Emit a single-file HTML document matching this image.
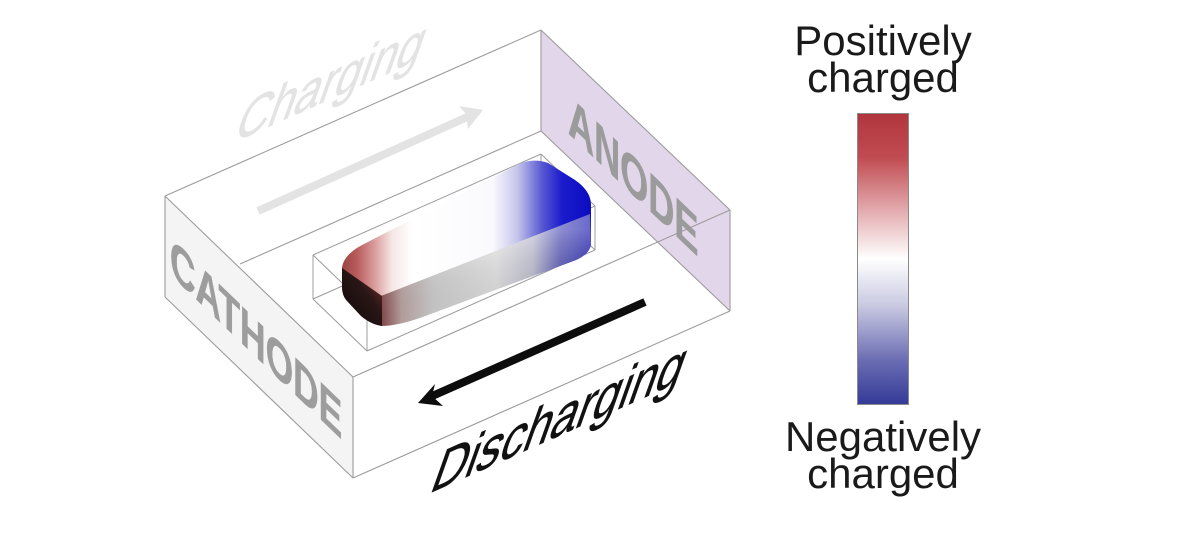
<!DOCTYPE html>
<html>
<head>
<meta charset="utf-8">
<style>
html,body{margin:0;padding:0;background:#fff;}
body{width:1200px;height:541px;overflow:hidden;}
svg{display:block;}
</style>
</head>
<body>
<svg width="1200" height="541" viewBox="0 0 1200 541" xmlns="http://www.w3.org/2000/svg">
  <defs>
    <linearGradient id="bar" x1="0" y1="0" x2="0" y2="1">
      <stop offset="0" stop-color="#b0363c"/>
      <stop offset="0.15" stop-color="#c04b51"/>
      <stop offset="0.33" stop-color="#e2a9ac"/>
      <stop offset="0.5" stop-color="#ffffff"/>
      <stop offset="0.66" stop-color="#c9c9e2"/>
      <stop offset="0.85" stop-color="#6a6cb2"/>
      <stop offset="1" stop-color="#343a98"/>
    </linearGradient>
    <linearGradient id="ptop" gradientUnits="userSpaceOnUse" x1="342" y1="0" x2="592" y2="0">
      <stop offset="0" stop-color="#9c4444"/>
      <stop offset="0.06" stop-color="#b85c5c"/>
      <stop offset="0.13" stop-color="#d99c9c"/>
      <stop offset="0.2" stop-color="#f6e6e6"/>
      <stop offset="0.28" stop-color="#ffffff"/>
      <stop offset="0.6" stop-color="#fafafd"/>
      <stop offset="0.7" stop-color="#c6c6ec"/>
      <stop offset="0.8" stop-color="#5858d2"/>
      <stop offset="0.88" stop-color="#1c1cce"/>
      <stop offset="1" stop-color="#0a0abf"/>
    </linearGradient>
    <linearGradient id="pfront" gradientUnits="userSpaceOnUse" x1="380" y1="0" x2="592" y2="0">
      <stop offset="0" stop-color="#8a4646"/>
      <stop offset="0.1" stop-color="#c4aaaa"/>
      <stop offset="0.25" stop-color="#d8d8d8"/>
      <stop offset="0.55" stop-color="#ececec"/>
      <stop offset="0.72" stop-color="#c2c2d6"/>
      <stop offset="0.85" stop-color="#5050b6"/>
      <stop offset="1" stop-color="#1616b0"/>
    </linearGradient>
    <linearGradient id="pfrontv" gradientUnits="userSpaceOnUse" x1="0" y1="230" x2="0" y2="330">
      <stop offset="0" stop-color="#ffffff" stop-opacity="0.35"/>
      <stop offset="1" stop-color="#000000" stop-opacity="0.08"/>
    </linearGradient>
    <linearGradient id="pend" gradientUnits="userSpaceOnUse" x1="345" y1="310" x2="385" y2="280">
      <stop offset="0" stop-color="#140c0c"/>
      <stop offset="0.55" stop-color="#2a1616"/>
      <stop offset="1" stop-color="#7a3030"/>
    </linearGradient>
  </defs>

  <!-- Left (cathode) face -->
  <polygon points="165,196 353,377 353,478 165,297" fill="#f4f4f4"/>
  <!-- Anode panel -->
  <polygon points="541,30 730,210 730,311 541,131" fill="#e2d6ea"/>

  <!-- box edges -->
  <g stroke="#9c9c9c" stroke-width="1.1" fill="none">
    <line x1="165" y1="196" x2="541" y2="30"/>
    <line x1="541" y1="30" x2="730" y2="210"/>
    <line x1="541" y1="30" x2="541" y2="131"/>
    <line x1="730" y1="210" x2="730" y2="311"/>
    <line x1="541" y1="131" x2="730" y2="311"/>
    <line x1="240" y1="264" x2="541" y2="131"/>
    <line x1="165" y1="196" x2="353" y2="377"/>
    <line x1="165" y1="196" x2="165" y2="297"/>
    <line x1="165" y1="297" x2="353" y2="478"/>
    <line x1="353" y1="377" x2="353" y2="478"/>
    <line x1="353" y1="377" x2="730" y2="210"/>
    <line x1="353" y1="478" x2="730" y2="311"/>
  </g>

  <!-- inner box edges -->
  <g stroke="#9c9c9c" stroke-width="1" fill="none">
    <line x1="313" y1="255" x2="541" y2="154"/>
    <line x1="541" y1="154" x2="595" y2="206"/>
    <line x1="313" y1="255" x2="367" y2="307"/>
    <line x1="367" y1="307" x2="595" y2="206"/>
    <line x1="313" y1="255" x2="313" y2="299"/>
    <line x1="595" y1="206" x2="595" y2="250"/>
    <line x1="367" y1="307" x2="367" y2="351"/>
    <line x1="541" y1="154" x2="541" y2="198"/>
    <line x1="313" y1="299" x2="367" y2="351"/>
    <line x1="367" y1="351" x2="595" y2="250"/>
    <line x1="313" y1="299" x2="541" y2="198"/>
    <line x1="541" y1="198" x2="595" y2="250"/>
  </g>

  <!-- particle -->
  <path d="M342,268 C343,258 352,250 364,244 L515,166 C525,160 538,159 548,163 L575,180 C585,187 591,195 591,205 L591,243 C591,250 585,256 576,260 L420,318 C405,323 390,327 380,325 C372,324 366,320 361,316 L348,302 C343,297 342,292 342,285 Z" fill="url(#ptop)"/>
  <path d="M381,296 L590,214 L591,243 C591,250 585,256 576,260 L420,318 C405,323 392,326 381,326 Z" fill="url(#pfront)"/>
  <path d="M381,296 L590,214 L591,243 C591,250 585,256 576,260 L420,318 C405,323 392,326 381,326 Z" fill="url(#pfrontv)"/>
  <path d="M342,268 L382,296 L382,326 C374,325 367,321 361,316 L348,302 C343,297 342,292 342,285 Z" fill="url(#pend)"/>

  <!-- Charging arrow (light gray) -->
  <line x1="258" y1="211" x2="474" y2="114" stroke="#e3e3e3" stroke-width="8"/>
  <polygon points="483,110 459,106 466,114 468,129" fill="#e3e3e3"/>

  <!-- Discharging arrow (black) -->
  <line x1="645" y1="302" x2="430" y2="397" stroke="#0d0d0d" stroke-width="8"/>
  <polygon points="418,403 435,384 432,396 443,406" fill="#0d0d0d"/>

  <!-- texts -->
  <text transform="matrix(0.655 0.631 0 1 170 274)" font-family="Liberation Sans, sans-serif" font-size="54" font-weight="bold" fill="#9d9d9d" stroke="#9d9d9d" stroke-width="0.6">CATHODE</text>
  <text transform="matrix(0.645 0.614 0 1 568 133)" font-family="Liberation Sans, sans-serif" font-size="56" font-weight="bold" fill="#9b9b9b" stroke="#9b9b9b" stroke-width="0.6">ANODE</text>
  <text transform="matrix(0.79 -0.352 -0.37 1.04 232 143)" font-family="Liberation Sans, sans-serif" font-size="58" fill="#e3e3e3" stroke="#e3e3e3" stroke-width="0.6">Charging</text>
  <text transform="matrix(0.79 -0.352 -0.37 1.04 428 494)" font-family="Liberation Sans, sans-serif" font-size="60" fill="#111111" stroke="#111111" stroke-width="0.6">Discharging</text>

  <!-- legend -->
  <g font-family="Liberation Sans, sans-serif" font-size="42" fill="#1a1a1a" text-anchor="middle">
    <text x="883" y="55">Positively</text>
    <text x="883" y="92">charged</text>
    <text x="883" y="451">Negatively</text>
    <text x="883" y="488">charged</text>
  </g>
  <rect x="857.5" y="113.5" width="51" height="291" fill="url(#bar)" stroke="#8a8a8a" stroke-width="1"/>
</svg>
</body>
</html>
